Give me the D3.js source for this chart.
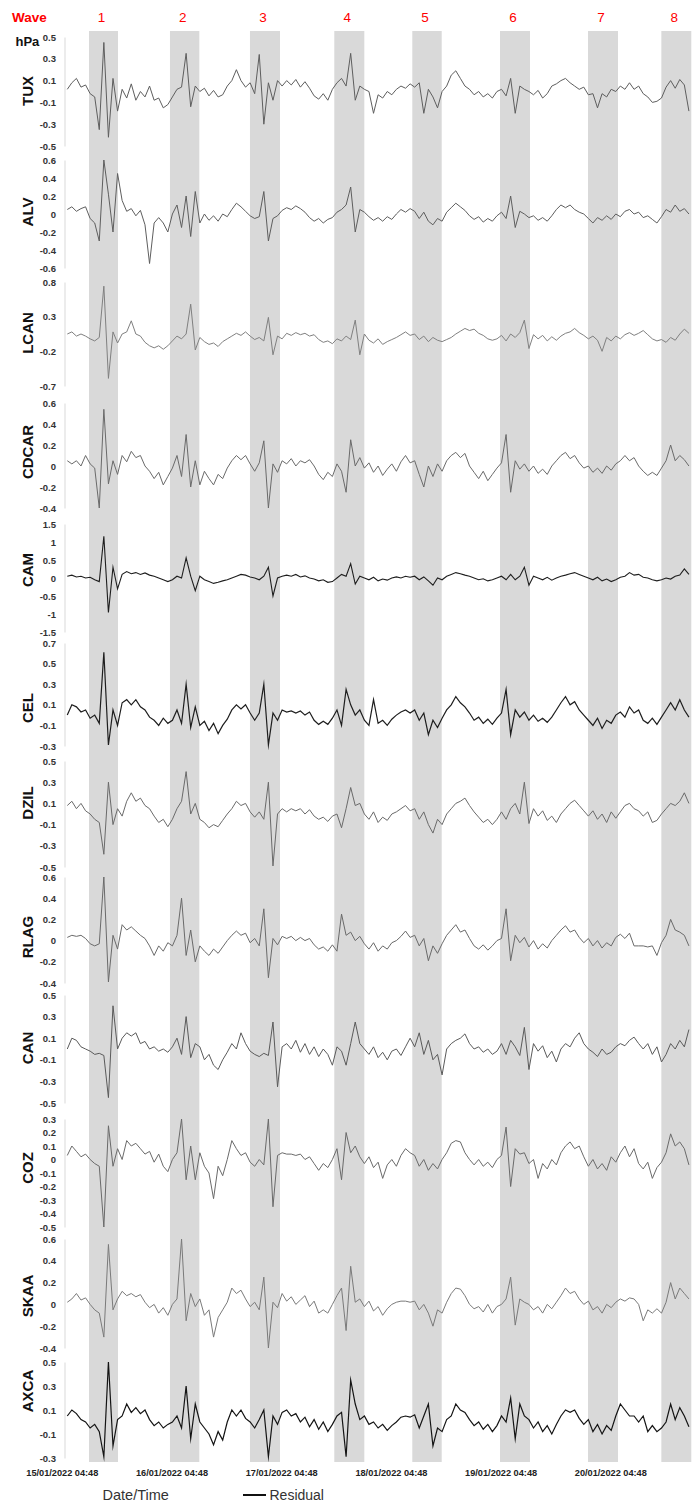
<!DOCTYPE html>
<html><head><meta charset="utf-8">
<script src="https://cdn.jsdelivr.net/npm/d3@7/dist/d3.min.js"></script>
<style>body{margin:0;background:#fff;} svg{display:block;}</style>
</head><body><svg id="c" width="699" height="1506"></svg>
<script>
// ---------- DATA ----------
const stations = ["TUX","ALV","LCAN","CDCAR","CAM","CEL","DZIL","RLAG","CAN","COZ","SKAA","AXCA"];
const startTime = "2022-01-15T06:00";           // first hourly sample
const dayTicks  = ["2022-01-15T04:48","2022-01-16T04:48","2022-01-17T04:48","2022-01-18T04:48","2022-01-19T04:48","2022-01-20T04:48"];
const dayLabels = ["15/01/2022 04:48","16/01/2022 04:48","17/01/2022 04:48","18/01/2022 04:48","19/01/2022 04:48","20/01/2022 04:48"];
const waveNames = ["1","2","3","4","5","6","7","8"];
const waveStart = ["2022-01-15T10:45","2022-01-16T04:28","2022-01-16T21:58","2022-01-17T16:25","2022-01-18T09:29","2022-01-19T04:40","2022-01-19T23:55","2022-01-20T15:58"];
const waveEnd   = ["2022-01-15T17:06","2022-01-16T10:53","2022-01-17T04:32","2022-01-17T22:59","2022-01-18T15:55","2022-01-19T11:14","2022-01-20T06:29","2022-01-20T22:31"];

const yDomains = [[-0.5,0.5],[-0.6,0.6],[-0.7,0.8],[-0.4,0.6],[-1.5,1.5],[-0.3,0.7],[-0.5,0.5],[-0.4,0.6],[-0.5,0.5],[-0.5,0.3],[-0.4,0.6],[-0.3,0.5]];
const yTicks = [
 [0.5,0.3,0.1,-0.1,-0.3,-0.5],
 [0.6,0.4,0.2,0,-0.2,-0.4,-0.6],
 [0.8,0.3,-0.2,-0.7],
 [0.6,0.4,0.2,0,-0.2,-0.4],
 [1.5,1,0.5,0,-0.5,-1,-1.5],
 [0.7,0.5,0.3,0.1,-0.1,-0.3],
 [0.5,0.3,0.1,-0.1,-0.3,-0.5],
 [0.6,0.4,0.2,0,-0.2,-0.4],
 [0.5,0.3,0.1,-0.1,-0.3,-0.5],
 [0.3,0.2,0.1,0,-0.1,-0.2,-0.3,-0.4,-0.5],
 [0.6,0.4,0.2,0,-0.2,-0.4],
 [0.5,0.3,0.1,-0.1,-0.3]
];

const TUX = [0.02,0.08,0.12,0.04,0.06,-0.02,-0.05,-0.35,0.45,-0.42,
0.12,-0.18,0.02,-0.06,0.07,-0.08,0.0,-0.05,0.05,-0.08,
-0.06,-0.15,-0.12,-0.05,0.02,0.04,0.35,-0.14,0.05,0.0,
0.03,-0.04,0.01,-0.05,-0.03,0.05,0.1,0.2,0.1,0.04,
0.08,-0.02,0.34,-0.3,0.08,-0.08,0.1,0.05,0.1,0.06,
0.11,0.04,0.09,0.03,-0.04,-0.07,-0.02,-0.08,0.02,0.08,
0.12,0.05,0.35,-0.08,0.05,0.02,0.0,-0.2,-0.03,-0.06,
0.0,-0.03,0.02,0.05,0.03,0.07,0.04,0.08,-0.2,0.02,
-0.05,-0.15,0.0,0.05,0.15,0.19,0.12,0.05,0.02,-0.03,
0.0,-0.05,-0.02,-0.06,0.0,0.02,-0.04,0.12,-0.2,0.05,
0.02,0.0,-0.03,0.01,-0.06,-0.02,0.05,0.07,0.1,0.12,
0.08,0.05,0.02,0.04,-0.03,-0.02,-0.15,-0.02,-0.05,0.02,
0.0,0.05,0.02,0.08,0.02,0.05,-0.02,-0.05,-0.1,-0.09,
-0.06,0.04,0.1,0.03,0.11,0.06,-0.18];
const ALV = [0.05,0.08,0.03,0.06,0.08,-0.05,-0.1,-0.3,0.6,0.22,
-0.2,0.45,0.15,0.03,0.06,-0.02,0.04,-0.12,-0.55,-0.1,
-0.04,-0.1,-0.2,0.0,0.1,-0.15,0.2,-0.25,0.25,-0.1,
0.0,-0.07,-0.02,-0.08,0.0,-0.03,0.05,0.12,0.08,0.03,
-0.02,-0.05,-0.03,0.25,-0.3,-0.05,-0.02,0.04,0.07,0.05,
0.09,0.06,0.02,-0.04,-0.08,-0.05,-0.1,-0.06,-0.04,0.02,
0.05,0.1,0.3,-0.2,0.05,0.02,-0.03,-0.07,-0.04,-0.08,
-0.03,-0.06,0.0,0.05,0.02,0.06,0.03,-0.05,0.02,-0.08,
-0.12,-0.05,-0.08,0.02,0.07,0.12,0.08,0.04,-0.02,-0.06,
-0.03,-0.09,-0.05,-0.08,-0.02,0.02,-0.05,0.2,-0.15,0.03,
0.0,-0.04,-0.02,-0.07,-0.04,-0.08,-0.02,0.05,0.1,0.07,
0.1,0.05,0.02,0.0,-0.05,-0.1,-0.04,-0.07,-0.02,-0.06,
0.0,-0.03,0.03,0.05,0.0,0.02,-0.04,-0.02,-0.06,-0.1,
-0.03,0.05,0.02,0.1,0.03,0.06,0.0];
const LCAN = [0.05,0.08,0.02,0.05,0.02,-0.02,-0.05,0.0,0.74,-0.59,
0.08,-0.08,0.05,0.08,0.24,0.05,0.02,-0.07,-0.12,-0.15,
-0.12,-0.17,-0.12,-0.05,0.02,-0.02,0.05,0.48,-0.18,0.0,
-0.06,-0.1,-0.08,-0.13,-0.06,-0.02,0.02,0.06,0.03,0.08,
0.02,-0.03,0.0,-0.05,0.29,-0.25,0.02,-0.02,0.06,0.03,
0.07,0.04,0.06,0.02,0.04,-0.03,-0.07,-0.05,-0.09,-0.02,
-0.05,0.02,-0.03,0.25,-0.25,0.05,-0.04,-0.08,-0.02,-0.1,
-0.06,-0.03,0.0,0.04,0.08,0.03,0.05,-0.03,0.02,-0.06,
0.0,-0.04,-0.06,-0.03,0.0,0.05,0.09,0.13,0.1,0.12,
0.06,0.03,-0.02,-0.04,-0.02,0.03,-0.05,0.05,0.0,0.07,
0.25,-0.16,0.04,-0.02,0.03,-0.05,0.01,-0.04,0.02,0.06,
0.08,0.13,0.07,0.03,-0.02,0.02,-0.04,-0.2,0.0,-0.05,
0.02,-0.02,0.04,0.07,0.03,0.06,0.1,0.04,-0.02,-0.05,
-0.03,-0.07,0.0,-0.04,0.05,0.12,0.06];
const CDCAR = [0.05,0.02,0.05,0.0,0.1,0.02,-0.02,-0.4,0.54,-0.17,
0.05,-0.08,0.1,0.04,0.14,0.08,0.1,0.0,-0.05,-0.12,
-0.06,-0.18,-0.1,-0.02,0.1,-0.1,0.3,-0.2,0.05,-0.18,
-0.05,-0.12,-0.18,-0.08,-0.12,-0.02,0.05,0.1,0.06,0.1,
0.02,-0.05,0.03,0.24,-0.4,0.02,-0.06,0.05,0.02,0.07,
0.0,0.05,0.03,0.06,0.0,-0.08,-0.13,-0.06,-0.1,0.02,
-0.05,-0.25,0.25,0.0,0.08,-0.02,0.03,-0.06,0.0,-0.09,
-0.03,0.02,-0.05,0.04,0.1,0.03,0.05,-0.08,-0.2,0.0,
-0.1,0.02,-0.05,0.05,0.1,0.13,0.08,0.12,0.0,-0.06,
-0.12,-0.05,-0.14,-0.08,-0.02,0.03,0.3,-0.25,0.05,-0.03,
0.02,-0.05,0.0,-0.07,-0.03,-0.08,0.0,0.05,0.1,0.13,
0.07,0.1,0.03,-0.02,0.0,-0.06,-0.02,-0.07,0.0,-0.04,
0.02,0.05,0.1,0.05,0.08,0.0,-0.05,-0.09,-0.06,-0.09,
-0.02,0.05,0.2,0.05,0.1,0.06,0.0];
const CAM = [0.05,0.08,0.03,0.05,0.0,0.02,-0.05,-0.1,1.16,-0.96,
0.3,-0.3,0.1,0.18,0.12,0.15,0.1,0.14,0.08,0.05,
0.0,-0.05,-0.1,-0.05,0.05,0.0,0.56,0.05,-0.35,0.05,
-0.05,-0.1,-0.15,-0.12,-0.08,-0.05,0.0,0.05,0.1,0.08,
0.03,0.0,-0.05,0.05,0.3,-0.5,0.0,0.05,0.08,0.05,
0.1,0.03,0.06,0.0,-0.03,-0.08,-0.05,-0.12,-0.1,0.0,
0.1,0.05,0.4,-0.17,0.05,0.0,-0.05,0.02,-0.08,-0.03,
-0.06,0.0,0.03,0.0,0.05,0.02,0.05,-0.05,0.03,-0.08,
-0.2,0.0,-0.05,0.05,0.1,0.15,0.12,0.08,0.05,0.0,
-0.05,-0.02,-0.08,-0.05,0.0,0.05,-0.05,0.1,-0.05,0.05,
0.3,-0.2,0.05,0.0,-0.05,0.02,-0.06,0.0,0.05,0.08,
0.12,0.15,0.1,0.05,0.0,-0.05,0.02,-0.08,-0.03,-0.1,
-0.05,0.02,0.05,0.15,0.08,0.1,0.02,0.0,-0.05,-0.08,
-0.05,0.0,-0.03,0.05,0.08,0.25,0.1];
const CEL = [0.0,0.1,0.08,0.03,0.05,-0.03,0.0,-0.08,0.61,-0.29,
0.05,-0.1,0.12,0.15,0.1,0.15,0.08,0.05,-0.02,-0.05,
-0.1,-0.03,-0.08,-0.05,0.05,-0.08,0.3,-0.12,0.08,-0.1,
-0.06,-0.15,-0.08,-0.18,-0.1,-0.04,0.05,0.1,0.06,0.1,
0.02,-0.05,0.02,0.3,-0.29,0.02,-0.05,0.05,0.03,0.04,
0.02,0.04,0.0,0.03,-0.05,-0.09,-0.06,-0.09,-0.03,0.05,
-0.1,0.25,0.1,0.0,0.05,-0.05,-0.1,0.15,-0.08,-0.05,
-0.1,-0.04,0.0,0.03,0.05,0.02,0.05,-0.05,0.02,-0.19,
-0.05,-0.12,-0.03,0.05,0.1,0.18,0.12,0.08,0.02,-0.05,
-0.02,-0.08,-0.04,-0.09,-0.03,0.02,0.25,-0.19,0.05,-0.02,
0.03,-0.05,0.0,-0.06,-0.03,-0.07,-0.02,0.05,0.12,0.18,
0.1,0.13,0.05,0.0,-0.05,-0.1,-0.03,-0.13,-0.05,-0.08,
0.0,0.03,-0.02,0.08,0.02,0.05,-0.05,-0.08,-0.03,-0.09,
-0.02,0.05,0.12,0.05,0.15,0.05,-0.02];
const DZIL = [0.08,0.12,0.05,0.1,0.03,0.0,-0.05,-0.08,-0.38,0.3,
-0.1,0.05,-0.02,0.12,0.2,0.12,0.15,0.08,0.05,-0.02,
-0.08,-0.05,-0.12,-0.05,0.05,0.12,0.4,0.0,0.1,-0.05,
-0.08,-0.13,-0.1,-0.12,-0.06,0.0,0.05,0.12,0.08,0.1,
0.02,-0.03,0.02,-0.05,0.3,-0.49,0.0,0.05,0.02,0.05,
0.03,0.05,0.0,0.04,-0.02,-0.05,-0.03,-0.07,-0.02,0.0,
-0.13,0.05,0.25,0.08,0.1,0.0,-0.05,0.02,-0.08,-0.03,
-0.06,0.0,0.02,0.05,0.08,0.03,0.05,-0.05,0.02,-0.1,
-0.18,-0.05,-0.1,0.0,0.05,0.1,0.12,0.15,0.08,0.02,
-0.03,-0.08,-0.05,-0.1,-0.05,0.02,-0.05,0.05,0.1,0.0,
0.3,-0.09,0.05,-0.02,0.03,-0.06,-0.02,-0.08,0.0,0.05,
0.1,0.13,0.08,0.03,-0.02,0.03,-0.05,0.0,-0.08,0.02,
-0.04,0.02,0.08,0.1,0.05,0.03,-0.02,0.02,-0.08,-0.06,
0.0,0.05,0.1,0.08,0.12,0.2,0.1];
const RLAG = [0.03,0.05,0.04,0.05,0.02,-0.03,-0.05,-0.03,0.6,-0.39,
0.05,-0.08,0.15,0.1,0.13,0.09,0.05,0.02,-0.05,-0.14,
-0.05,-0.1,-0.02,-0.05,0.05,0.4,-0.14,0.1,-0.2,-0.05,
-0.1,-0.14,-0.08,-0.12,-0.06,0.0,0.05,0.09,0.05,0.07,
-0.02,0.02,-0.05,0.3,-0.35,0.02,-0.04,0.04,0.02,0.04,
0.0,0.03,0.0,0.02,-0.04,-0.08,-0.06,-0.1,-0.04,-0.1,
0.25,0.05,0.08,0.0,0.04,-0.03,-0.08,-0.02,-0.1,-0.05,
-0.08,-0.02,0.0,0.04,0.09,0.03,0.05,-0.05,0.02,-0.19,
-0.05,-0.12,-0.03,0.05,0.1,0.15,0.08,0.1,0.02,-0.05,
-0.08,-0.04,-0.09,-0.05,0.0,0.02,0.3,-0.19,0.05,-0.02,
0.03,-0.06,0.0,-0.08,-0.03,-0.07,0.0,0.05,0.1,0.14,
0.08,0.1,0.03,-0.02,0.02,-0.05,0.0,-0.07,-0.02,-0.05,
0.03,0.06,0.02,0.07,-0.05,-0.05,-0.05,-0.06,-0.05,-0.14,
-0.02,0.05,0.2,0.1,0.08,0.05,-0.05];
const CAN = [0.0,0.1,0.08,0.02,0.0,-0.02,-0.05,-0.04,-0.06,-0.45,
0.4,0.0,0.1,0.15,0.12,0.15,0.05,0.07,0.0,0.02,
-0.02,0.0,-0.03,0.02,0.1,-0.05,0.3,-0.08,0.05,0.02,
-0.1,-0.05,-0.15,-0.19,-0.1,-0.03,0.05,0.0,0.15,0.05,
-0.02,-0.05,-0.07,-0.04,-0.06,0.25,-0.35,0.02,0.05,0.0,
0.08,-0.03,0.05,-0.05,0.02,-0.07,0.0,-0.05,-0.15,0.02,
-0.02,-0.15,0.05,0.25,0.05,0.0,-0.05,0.02,-0.08,-0.03,
-0.1,-0.02,0.0,-0.06,0.02,0.1,0.02,0.15,-0.05,0.08,
-0.1,-0.05,-0.24,0.0,0.05,0.08,0.1,0.14,0.05,0.0,
0.02,-0.03,0.0,-0.05,-0.02,0.05,-0.05,0.08,0.02,-0.06,
0.2,-0.19,0.05,-0.02,0.03,-0.08,-0.02,-0.12,0.0,0.05,
0.02,0.1,0.15,0.05,0.0,-0.03,-0.07,0.0,-0.05,-0.03,
0.02,0.05,0.03,0.08,0.11,0.05,0.0,0.05,-0.05,0.02,
-0.12,-0.05,0.05,0.0,0.08,0.02,0.18];
const COZ = [0.03,0.1,0.06,0.02,0.04,0.0,-0.03,-0.05,-0.5,0.25,
-0.05,0.08,0.0,0.14,0.1,0.12,0.08,0.04,0.06,-0.02,
0.04,-0.05,-0.09,0.0,0.05,0.3,-0.15,0.1,-0.15,0.05,
-0.05,-0.1,-0.29,-0.05,-0.12,0.0,0.14,0.08,0.03,0.05,
-0.02,-0.05,0.0,-0.04,0.3,-0.35,0.03,0.05,0.04,0.04,
0.03,0.04,0.0,0.02,-0.03,-0.08,-0.03,-0.06,0.0,0.08,
-0.15,0.2,0.05,0.1,0.02,-0.03,0.02,-0.06,-0.02,-0.14,
-0.04,0.0,-0.05,0.03,0.08,0.05,0.03,-0.05,0.0,-0.08,
-0.03,-0.07,0.0,0.05,0.12,0.14,0.13,0.05,0.0,-0.04,
0.0,-0.05,-0.02,-0.06,0.0,0.03,0.24,-0.2,0.08,0.04,
0.05,-0.03,0.0,-0.14,-0.03,-0.07,0.0,-0.04,0.05,0.1,
0.13,0.08,0.1,0.02,-0.05,0.0,-0.07,-0.03,-0.08,0.02,
-0.02,0.05,0.1,0.02,0.08,-0.03,-0.07,-0.02,-0.14,-0.06,
-0.02,0.05,0.19,0.1,0.13,0.08,-0.04];
const SKAA = [0.02,0.05,0.1,0.04,0.06,0.0,-0.05,-0.08,-0.3,0.55,
-0.05,0.05,0.12,0.08,0.1,0.07,0.09,0.02,-0.03,0.0,
-0.08,-0.03,-0.1,0.0,0.05,0.6,-0.15,0.1,-0.02,0.05,
-0.1,-0.05,-0.3,-0.12,-0.05,0.02,0.15,0.1,0.13,0.05,
-0.02,0.02,-0.05,0.25,-0.4,0.02,-0.03,0.1,0.03,0.07,
0.0,0.04,0.08,-0.02,0.03,-0.08,-0.05,-0.08,0.0,0.08,
0.15,-0.24,0.35,0.02,0.05,-0.02,0.03,-0.06,-0.02,-0.1,
-0.04,0.0,0.02,0.03,0.03,0.02,0.03,-0.05,0.0,-0.08,
-0.2,-0.05,-0.08,0.02,0.1,0.15,0.14,0.08,0.0,-0.04,
-0.02,-0.07,0.0,-0.08,-0.02,0.0,0.05,0.25,-0.19,0.05,
0.02,0.0,-0.05,-0.02,-0.08,0.0,-0.04,0.02,0.08,0.15,
0.1,0.12,0.05,0.0,0.03,-0.05,-0.02,-0.08,0.0,-0.03,
0.02,0.05,0.03,0.06,0.05,0.0,-0.15,-0.05,-0.08,-0.04,
-0.08,0.02,0.2,0.05,0.15,0.1,0.05];
const AXCA = [0.05,0.1,0.07,0.02,0.0,-0.05,-0.02,-0.08,-0.29,0.5,
-0.2,0.02,0.05,0.15,0.08,0.12,0.07,0.1,0.02,-0.03,
0.0,-0.05,-0.02,0.0,0.05,-0.05,0.3,-0.14,0.15,0.0,
-0.05,-0.1,-0.19,-0.08,-0.15,0.0,0.1,0.05,0.1,0.03,
0.0,-0.05,0.02,0.1,-0.29,0.05,-0.02,0.08,0.1,0.05,
0.07,0.0,0.04,-0.04,0.02,-0.06,0.0,-0.08,-0.02,0.05,
0.08,-0.29,0.35,0.15,0.02,0.05,-0.02,0.0,-0.05,-0.02,
-0.07,-0.03,0.0,0.04,0.05,0.04,0.06,-0.05,0.05,0.15,
-0.2,-0.05,-0.08,0.02,0.05,0.15,0.1,0.08,0.02,-0.03,
0.0,-0.06,-0.02,-0.08,-0.03,0.05,0.0,0.2,-0.14,0.15,
0.05,0.02,-0.05,0.0,-0.08,-0.03,-0.1,-0.02,0.05,0.1,
0.08,0.1,0.03,-0.02,0.02,-0.08,-0.02,-0.1,-0.03,-0.07,
0.05,0.15,0.1,0.05,0.05,0.0,0.05,-0.08,-0.03,-0.08,
-0.05,0.0,0.15,0.02,0.12,0.05,-0.04];
const series = [TUX,ALV,LCAN,CDCAR,CAM,CEL,DZIL,RLAG,CAN,COZ,SKAA,AXCA];

// ---------- LAYOUT / STYLE ----------
const panelTop    = [37,160,282,403,524,643,761,877,995,1119,1239,1362];
const panelBottom = [146,268,386,508,632,746,867,983,1103,1227,1348,1458];
const labelY      = [91,212,333,452,570,708,803,937,1048,1168,1296,1391];
const lineColor   = ["#5e5e5e","#5e5e5e","#808080","#6a6a6a","#1e1e1e","#1e1e1e","#6a6a6a","#6a6a6a","#5a5a5a","#6a6a6a","#7a7a7a","#141414"];
const lineWidth   = [1,1,1,1,1.1,1.2,1,1,1,1,1,1.2];
const axisX = 64.5;

// ---------- DRAW ----------
const parse = d3.timeParse("%Y-%m-%dT%H:%M");
const svg = d3.select("#c");
const t0 = parse(dayTicks[0]);
const x = d3.scaleTime().domain([t0, d3.timeDay.offset(t0, 6)]).range([61.8, 61.8 + 6*109.7]);
const times = series[0].map((_, i) => d3.timeHour.offset(parse(startTime), i));

// wave bands
const bandTop = 31, bandBottom = 1462;
svg.append("g").selectAll("rect").data(waveNames).join("rect")
  .attr("x", (d,i) => x(parse(waveStart[i])))
  .attr("width", (d,i) => x(parse(waveEnd[i])) - x(parse(waveStart[i])))
  .attr("y", bandTop).attr("height", bandBottom - bandTop)
  .attr("fill", "#d9d9d9");

// wave labels
svg.append("text").attr("x", 12).attr("y", 21.5).text("Wave")
  .attr("font-family","Liberation Sans, Arial, sans-serif").attr("font-weight","bold")
  .attr("font-size", 13.5).attr("fill", "#ff0000");
svg.append("g").selectAll("text").data(waveNames).join("text")
  .attr("x", (d,i) => (x(parse(waveStart[i])) + x(parse(waveEnd[i]))) / 2 - 2)
  .attr("y", 21.5).attr("text-anchor","middle").text(d => d)
  .attr("font-family","Liberation Sans, Arial, sans-serif")
  .attr("font-size", 13.5).attr("fill", "#ff0000");

svg.append("text").attr("x", 15.5).attr("y", 45.5).text("hPa")
  .attr("font-family","Liberation Sans, Arial, sans-serif").attr("font-weight","bold")
  .attr("font-size", 13).attr("fill", "#111");

const fmt = v => String(v);
series.forEach((vals, k) => {
  const y = d3.scaleLinear().domain(yDomains[k]).range([panelBottom[k], panelTop[k]]);
  const g = svg.append("g");
  const ax = g.append("g").attr("transform", `translate(${axisX},0)`)
    .call(d3.axisLeft(y).tickValues(yTicks[k]).tickFormat(fmt).tickSize(0).tickPadding(8.5));
  ax.select(".domain").attr("stroke", "#d9d9d9").attr("stroke-width", 1);
  ax.selectAll("text").attr("font-family","Liberation Sans, Arial, sans-serif")
    .attr("font-weight","bold").attr("font-size", 9.5).attr("fill", "#333");

  g.append("text")
    .attr("transform", `translate(27.5,${labelY[k]}) rotate(-90)`)
    .attr("text-anchor","middle").attr("dominant-baseline","central")
    .attr("font-family","Liberation Sans Narrow, Liberation Sans, Arial, sans-serif")
    .attr("font-weight","bold").attr("font-size", 15).attr("fill","#111")
    .text(stations[k]);

  const line = d3.line().x((d,i) => x(times[i])).y(d => y(d));
  g.append("path").datum(vals).attr("d", line)
    .attr("fill","none").attr("stroke", lineColor[k]).attr("stroke-width", lineWidth[k])
    .attr("stroke-linejoin","miter").attr("stroke-miterlimit", 10);
});

// x axis labels
const xa = svg.append("g").attr("transform","translate(0,1466)")
  .call(d3.axisBottom(x).tickValues(dayTicks.map(parse)).tickFormat((d,i) => dayLabels[i]).tickSize(0).tickPadding(3));
xa.select(".domain").remove();
xa.selectAll("text").attr("font-family","Liberation Sans, Arial, sans-serif")
  .attr("font-weight","bold").attr("font-size", 9.2).attr("fill","#222");

// legend
svg.append("text").attr("x", 102.5).attr("y", 1500).text("Date/Time")
  .attr("font-family","Liberation Sans, Arial, sans-serif").attr("font-size", 14.5).attr("fill","#333");
svg.append("line").attr("x1", 243).attr("x2", 266).attr("y1", 1495).attr("y2", 1495)
  .attr("stroke","#111").attr("stroke-width", 2);
svg.append("text").attr("x", 269.5).attr("y", 1500).text("Residual")
  .attr("font-family","Liberation Sans, Arial, sans-serif").attr("font-size", 14).attr("fill","#333");
</script></body></html>
